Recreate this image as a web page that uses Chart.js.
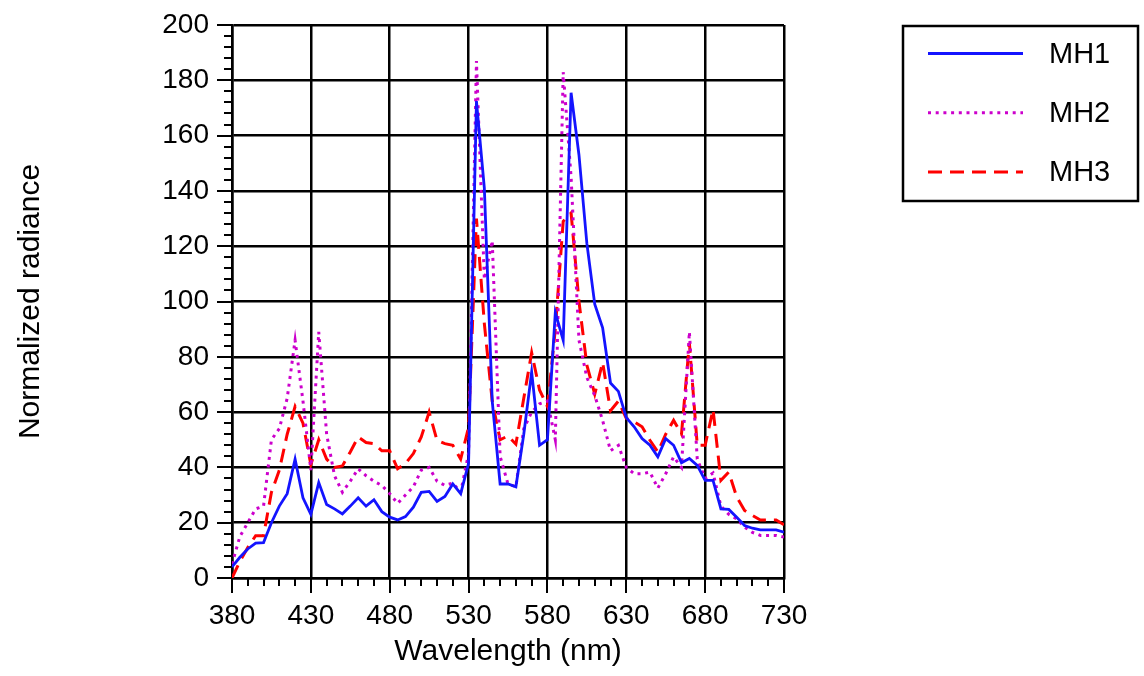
<!DOCTYPE html>
<html lang="en">
<head>
  <meta charset="UTF-8">
  <title>Normalized radiance MH1 / MH2 / MH3</title>
  <script src="https://cdn.jsdelivr.net/npm/chart.js"></script>
  <style>
    body {
      margin: 0;
      background-color: #fff;
    }
    canvas {
      display: block;
    }
  </style>
</head>
<body>

  <canvas id="grafico" width="1144" height="676"></canvas>

  <script>
    // datos (paso de 5 nm)
    const wavelengths = [380, 385, 390, 395, 400, 405, 410, 415, 420, 425,
      430, 435, 440, 445, 450, 455, 460, 465, 470, 475,
      480, 485, 490, 495, 500, 505, 510, 515, 520, 525,
      530, 535, 540, 545, 550, 555, 560, 565, 570, 575,
      580, 585, 590, 595, 600, 605, 610, 615, 620, 625,
      630, 635, 640, 645, 650, 655, 660, 665, 670, 675,
      680, 685, 690, 695, 700, 705, 710, 715, 720, 725, 730];

    const mh1 = [4, 7.5, 10.5, 12.6, 12.8, 20, 26, 30.5, 43, 29,
      23, 34.5, 26.6, 25, 23.2, 26, 29, 26, 28.3, 24,
      22, 21, 22.2, 25.6, 31, 31.3, 27.7, 29.5, 34, 30.5,
      41.5, 172.5, 141, 64, 34, 34, 33, 52, 74.5, 48,
      50, 96, 86, 175.5, 153, 121, 99, 90.5, 70.5, 67.5,
      58, 54.7, 50.4, 48, 43.8, 50.4, 48, 41.7, 43.2, 40.7,
      35.3, 35.3, 25, 24.8, 22, 19, 18, 17.4, 17.4, 17.4, 16.6];

    const mh2 = [5, 15, 20, 25, 26, 50, 54, 65, 86, 64,
      39, 89, 52, 37, 31, 35, 39.5, 37, 35, 33.5,
      30.5, 27, 30, 33, 39, 40, 35, 33.5, 34.3, 31,
      45, 187, 108, 122, 44, 34, 33, 54, 60, 63,
      64, 50, 183, 145, 86, 72.5, 66, 57, 46, 48,
      40, 37.7, 37.7, 38.3, 32.5, 37.7, 43.8, 40, 89, 43,
      36, 38, 26, 23, 21.4, 18.4, 16.5, 15.4, 15.4, 15.4, 14.8];

    const mh3 = [0, 6, 11, 15.3, 15.3, 31, 39, 52, 62, 56,
      41, 50, 43, 40, 40.5, 45.6, 51, 49, 48.6, 46,
      46, 39.5, 41.4, 45, 51, 60, 49.8, 48.6, 48, 43,
      54.5, 130, 92, 64, 50, 51.4, 48.4, 65, 81.5, 68,
      62, 90, 129, 132, 100, 77, 66.5, 78, 60.5, 64,
      57.7, 56.5, 54.7, 49.8, 45.6, 52, 57, 52, 85, 48,
      48, 61, 35.3, 38.3, 29.3, 24.4, 22.6, 21, 21, 21, 19.3];

    const xTicks = [380, 430, 480, 530, 580, 630, 680, 730];
    const yTicks = [0, 20, 40, 60, 80, 100, 120, 140, 160, 180, 200];
    const pasoMenorX = 10;
    const pasoMenorY = 4;

    const fuente = '"Liberation Sans", Arial, sans-serif';
    Chart.defaults.font.family = fuente;
    Chart.defaults.color = '#000';

    // marcas de eje (mayores y menores) hacia afuera
    const marcasEje = {
      id: 'marcasEje',
      afterDraw(chart) {
        const { ctx, chartArea, scales: { x, y } } = chart;
        ctx.save();
        ctx.strokeStyle = '#000';
        ctx.lineWidth = 2;
        ctx.beginPath();
        for (let v = xTicks[0]; v <= xTicks[xTicks.length - 1]; v += pasoMenorX) {
          const px = Math.round(x.getPixelForValue(v));
          const largo = xTicks.includes(v) ? 15 : 8;
          ctx.moveTo(px, chartArea.bottom);
          ctx.lineTo(px, chartArea.bottom + largo);
        }
        for (let v = yTicks[0]; v <= yTicks[yTicks.length - 1]; v += pasoMenorY) {
          const py = Math.round(y.getPixelForValue(v));
          const largo = yTicks.includes(v) ? 15 : 8;
          ctx.moveTo(chartArea.left, py);
          ctx.lineTo(chartArea.left - largo, py);
        }
        ctx.stroke();
        ctx.restore();
      }
    };

    // leyenda con marco a la derecha
    const leyendaCaja = {
      id: 'leyendaCaja',
      afterDraw(chart) {
        const ctx = chart.ctx;
        ctx.save();
        ctx.strokeStyle = '#000';
        ctx.lineWidth = 2.5;
        ctx.strokeRect(903, 26, 235, 175);
        chart.data.datasets.forEach((ds, i) => {
          const yy = 53.5 + i * 59.3;
          ctx.strokeStyle = ds.borderColor;
          ctx.lineWidth = ds.borderWidth;
          ctx.setLineDash(ds.borderDash || []);
          ctx.beginPath();
          ctx.moveTo(928, yy);
          ctx.lineTo(1023, yy);
          ctx.stroke();
          ctx.setLineDash([]);
          ctx.fillStyle = '#000';
          ctx.font = '29px ' + fuente;
          ctx.textBaseline = 'middle';
          ctx.fillText(ds.label, 1049, yy + 1);
        });
        ctx.restore();
      }
    };

    const serie = valores => wavelengths.map((w, i) => ({ x: w, y: valores[i] }));

    new Chart(document.getElementById('grafico'), {
      type: 'line',
      data: {
        datasets: [
          {
            label: 'MH1',
            data: serie(mh1),
            borderColor: '#1414ff',
            borderWidth: 2.8
          },
          {
            label: 'MH2',
            data: serie(mh2),
            borderColor: '#cc00cc',
            borderWidth: 3,
            borderDash: [3, 4.7]
          },
          {
            label: 'MH3',
            data: serie(mh3),
            borderColor: '#ff0000',
            borderWidth: 3,
            borderDash: [14, 8]
          }
        ]
      },
      options: {
        responsive: false,
        animation: false,
        elements: {
          point: { radius: 0 },
          line: { tension: 0, borderCapStyle: 'butt' }
        },
        layout: {
          padding: { left: 0, top: 25, right: 360, bottom: 0 }
        },
        plugins: {
          legend: { display: false },
          tooltip: { enabled: false }
        },
        scales: {
          x: {
            type: 'linear',
            min: 380,
            max: 730,
            afterBuildTicks: s => { s.ticks = xTicks.map(v => ({ value: v })); },
            afterFit: s => {
              s.height = 98;
              s.paddingLeft = 0;
              s.paddingRight = 0;
            },
            ticks: {
              font: { size: 28 },
              padding: 21,
              maxRotation: 0,
              autoSkip: false
            },
            grid: { color: '#000', lineWidth: 2.5, drawTicks: false },
            border: { display: true, color: '#000', width: 2.5 },
            title: {
              display: true,
              text: 'Wavelength (nm)',
              font: { size: 30 },
              padding: { top: 0, bottom: 6 }
            }
          },
          y: {
            min: 0,
            max: 200,
            afterBuildTicks: s => { s.ticks = yTicks.map(v => ({ value: v })); },
            afterFit: s => {
              s.width = 232;
              s.paddingTop = 0;
              s.paddingBottom = 0;
            },
            ticks: {
              font: { size: 28 },
              padding: 23
            },
            grid: { color: '#000', lineWidth: 2.5, drawTicks: false },
            border: { display: true, color: '#000', width: 2.5 },
            title: {
              display: true,
              text: 'Normalized radiance',
              font: { size: 30 },
              padding: { top: 13, bottom: 0 }
            }
          }
        }
      },
      plugins: [marcasEje, leyendaCaja]
    });
  </script>

</body>
</html>
